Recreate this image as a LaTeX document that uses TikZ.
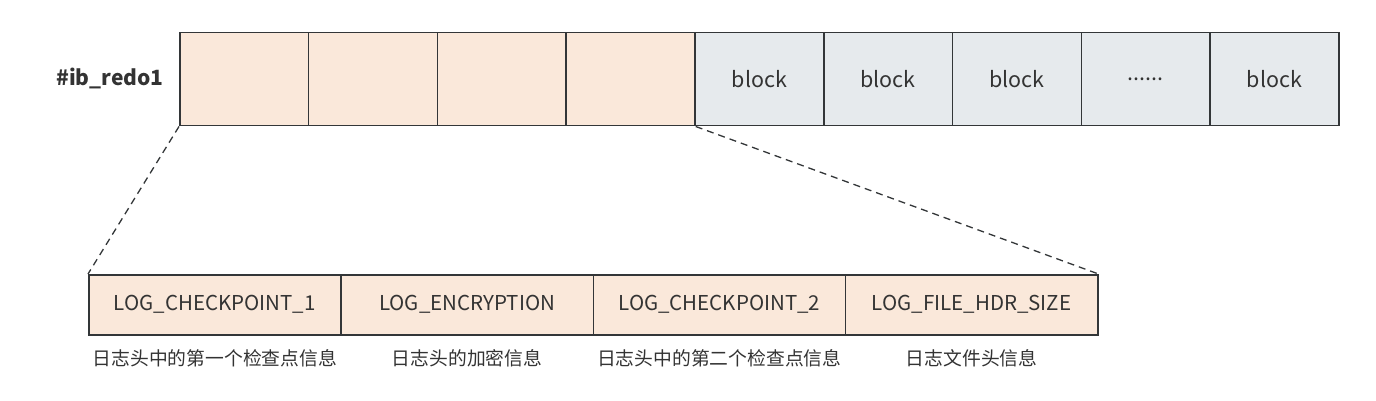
\documentclass[tikz,border=0pt]{standalone}
\usepackage{fontspec}
\setmainfont{Noto Sans CJK SC}
\newfontfamily\cjk{Noto Sans CJK SC}
\definecolor{peach}{HTML}{FAE8DA}
\definecolor{grayf}{HTML}{E6EAED}
\definecolor{strk}{HTML}{333638}
\definecolor{txt}{HTML}{333333}
\begin{document}
\begin{tikzpicture}[x=1pt,y=-1pt,
  cell/.style={draw=strk,line width=1.5pt,minimum width=128.8pt,minimum height=93pt,inner sep=0pt,anchor=north west,text=txt,font=\fontsize{21.5}{24}\selectfont},
  hcell/.style={cell,fill=peach},
  bcell/.style={cell,fill=grayf},
  lcell/.style={draw=strk,line width=1.5pt,fill=peach,minimum width=252.25pt,minimum height=60pt,inner sep=0pt,anchor=north west,text=txt,font=\fontsize{20.5}{23}\selectfont},
  desc/.style={text=txt,font=\fontsize{18.8}{22}\selectfont},
  zoomline/.style={draw=strk,line width=1.3pt,dashed,dash pattern=on 7pt off 5pt}]
\useasboundingbox (0,0) rectangle (1376,401);
\node[font=\bfseries\fontsize{21}{24}\selectfont,text=txt] (lbl) at (110,78) {\#ib\_redo1};
\node[hcell] (h1) at (179,32) {};
\node[hcell] (h2) at (307.8,32) {};
\node[hcell] (h3) at (436.6,32) {};
\node[hcell] (h4) at (565.4,32) {};
\node[bcell] (b1) at (694.2,32) {block};
\node[bcell] (b2) at (823,32) {block};
\node[bcell] (b3) at (951.8,32) {block};
\node[bcell] (b4) at (1080.6,32) {......};
\node[bcell] (b5) at (1209.4,32) {block};
\node[lcell] (l1) at (88,274) {LOG\_CHECKPOINT\_1};
\node[lcell] (l2) at (340.25,274) {LOG\_ENCRYPTION};
\node[lcell] (l3) at (592.5,274) {LOG\_CHECKPOINT\_2};
\node[lcell] (l4) at (844.75,274) {LOG\_FILE\_HDR\_SIZE};
\node[desc] (d1) at (l1.center |- 0,358) {日志头中的第一个检查点信息};
\node[desc] (d2) at (l2.center |- 0,358) {日志头的加密信息};
\node[desc] (d3) at (l3.center |- 0,358) {日志头中的第二个检查点信息};
\node[desc] (d4) at (l4.center |- 0,358) {日志文件头信息};
\draw[zoomline] (h1.south west) -- (l1.north west);
\draw[zoomline] (h4.south east) -- (l4.north east);
\end{tikzpicture}
\end{document}
